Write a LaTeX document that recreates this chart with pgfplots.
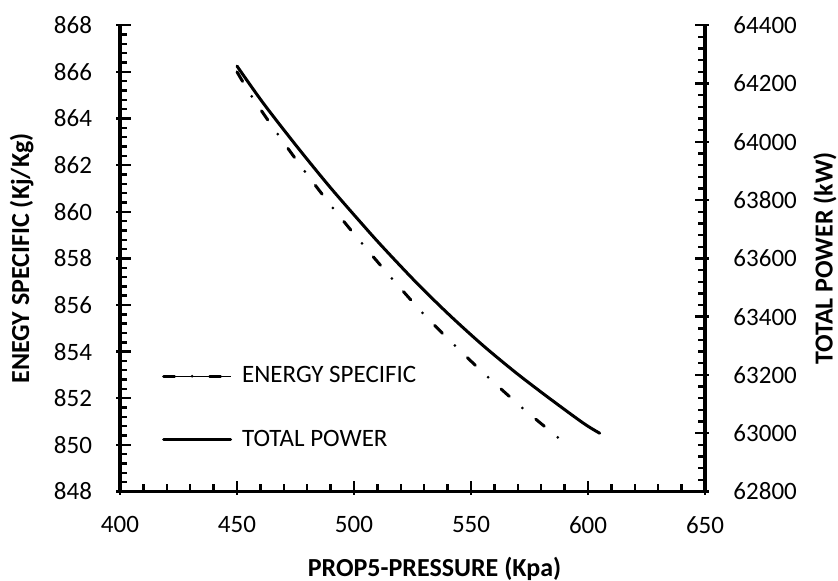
\documentclass[border=0pt]{standalone}
\usepackage{fontspec}
\setmainfont{Carlito}
\usepackage{pgfplots}
\pgfplotsset{compat=1.18}

\tikzset{esline/.style={black, line width=1.5pt, line cap=round, dash pattern=on 5.5pt off 8.75pt on 0pt off 8.75pt}}
\pgfplotsset{
  common/.style={
    scale only axis, width=292.5pt, height=233.1pt,
    xmin=400, xmax=650,
    axis line style={line width=1.6pt, -, black},
    tick align=inside,
    major tick length=7pt, minor tick length=3.5pt,
    tick style={line width=1.2pt, black},
    /pgf/number format/assume math mode=true,
    /pgf/number format/1000 sep={},
    scaled y ticks=false, scaled x ticks=false,
    tick label style={font=\fontsize{12.5}{15}\selectfont},
  },
}

\begin{document}
\begin{tikzpicture}
\useasboundingbox (-60pt,-44.75pt) rectangle (359pt,245.75pt);

\begin{axis}[common,
  ymin=848, ymax=868,
  axis x line*=bottom, axis y line*=left,
  xtick={400,450,...,650}, ytick={848,850,...,868},
  minor x tick num=4, minor y tick num=4,
  every major x tick/.append style={yshift=-1.75pt},
  every major y tick/.append style={xshift=-1.75pt},
  xticklabel style={yshift=-8.8pt},
  yticklabel style={xshift=-10.5pt},
  xlabel={PROP5-PRESSURE (Kpa)},
  ylabel={ENEGY SPECIFIC (Kj/Kg)},
  every axis x label/.style={at={([xshift=11pt,yshift=-38.75pt]axis description cs:0.5,0)}, anchor=center, font=\fontsize{13}{15}\selectfont\bfseries},
  every axis y label/.style={at={([xshift=-49.2pt]axis description cs:0,0.5)}, anchor=center, rotate=90, font=\fontsize{13}{15}\selectfont\bfseries},
]
\addplot[esline, smooth] coordinates {
(450,866.00) (456.7,864.89) (467.9,863.26) (479.5,861.66) (491.5,860.10)
(504.0,858.57) (516.8,857.07) (529.9,855.60) (543.9,854.18) (558.1,852.83)
(572.6,851.53) (588.0,850.25)
};
\end{axis}

\begin{axis}[common,
  ymin=62800, ymax=64400,
  axis x line=none, axis y line*=right,
  ytick={62800,63000,...,64400},
  minor y tick num=4,
  every major y tick/.append style={xshift=1.75pt},
  yticklabel style={xshift=10.7pt},
  ylabel={TOTAL POWER (kW)},
  every axis y label/.style={at={([xshift=60pt]axis description cs:1,0.5)}, anchor=center, rotate=90, font=\fontsize{13}{15}\selectfont\bfseries},
  legend style={at={([xshift=20.85pt,yshift=41.85pt]axis description cs:0,0)}, anchor=west,
    draw=none, fill=none, inner sep=0pt, row sep=22pt, column sep=5pt,
    font=\fontsize{12.5}{15}\selectfont,
    nodes={inner sep=0pt}},
  legend cell align=left,
]
\addlegendimage{legend image code/.code={\path (0pt,0pt) -- (33.5pt,0pt);
  \draw[esline] (0pt,0pt) -- (29pt,0pt);}}
\addlegendentry{ENERGY SPECIFIC}
\addplot[black, line width=1.5pt, line cap=round, smooth,
  legend image code/.code={\draw[black, line width=1.5pt, line cap=round] (0pt,0pt) -- (33.5pt,0pt);}] coordinates {
(450,64260) (461.2,64133) (475.5,63985) (489.7,63845) (504.0,63713)
(512.5,63637) (527.0,63514) (541.0,63404) (555.3,63300) (569.6,63205)
(583.8,63118) (598.1,63034) (605.0,63000)
};
\addlegendentry{TOTAL POWER}
\end{axis}
\end{tikzpicture}
\end{document}
